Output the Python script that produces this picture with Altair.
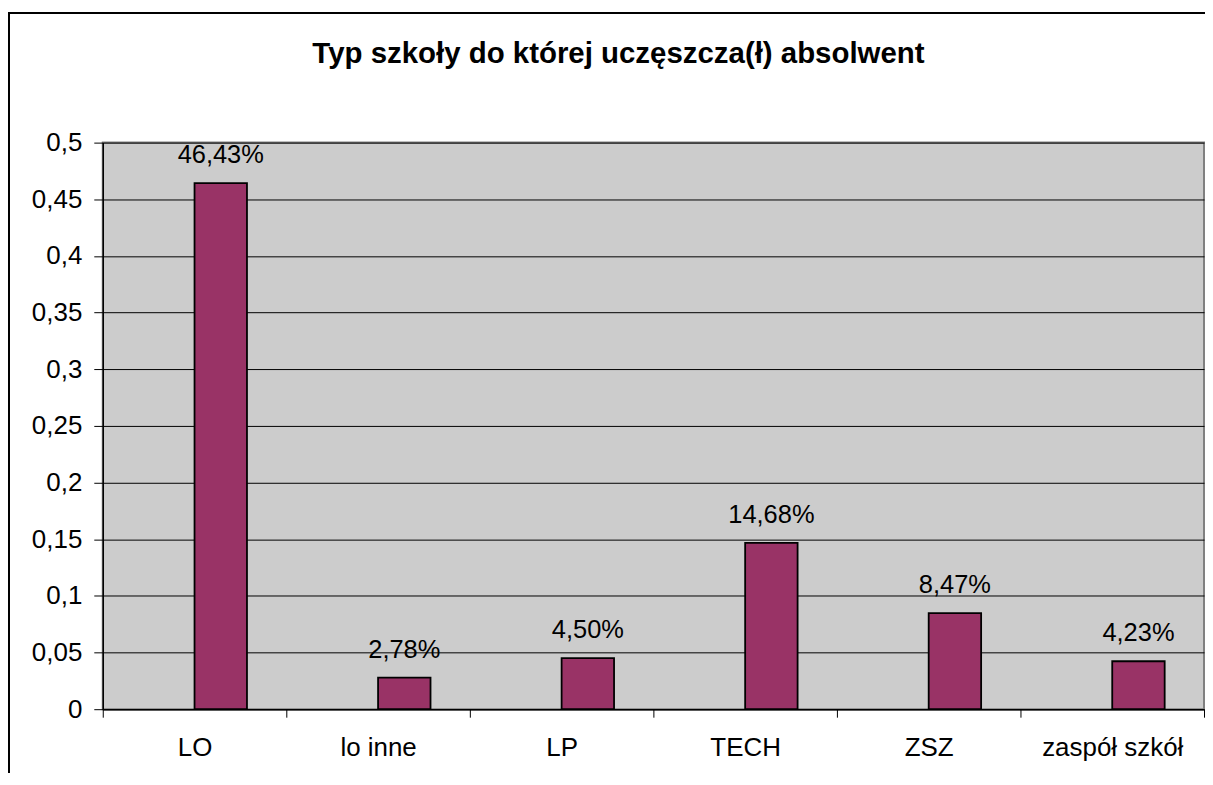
import altair as alt
import pandas as pd

categories = ["LO", "lo inne", "LP", "TECH", "ZSZ", "zaspół szkół"]
values = [0.4643, 0.0278, 0.0450, 0.1468, 0.0847, 0.0423]
y_ticks = [0, 0.05, 0.1, 0.15, 0.2, 0.25, 0.3, 0.35, 0.4, 0.45, 0.5]
title_text = "Typ szkoły do której uczęszcza(ł) absolwent"

FONT = "Liberation Sans"
W, H = 1104, 568

df = pd.DataFrame({
    "cat": categories,
    "val": values,
    "series": ["b"] * len(categories),
    "label": [f"{v * 100:.2f}%".replace(".", ",") for v in values],
})

x_enc = alt.X(
    "cat:N",
    sort=categories,
    scale=alt.Scale(paddingInner=0, paddingOuter=0),
    axis=alt.Axis(
        title=None, labelAngle=0, tickBand="extent", tickSize=8,
        tickColor="black", domainColor="black", domainWidth=1.5,
        labelFont=FONT, labelFontSize=26, labelColor="black",
        labelBaseline="alphabetic", labelPadding=38, grid=False,
    ),
)
xo_enc = alt.XOffset(
    "series:N",
    scale=alt.Scale(domain=["a", "b"], paddingInner=0, paddingOuter=0.75),
)
y_enc = alt.Y(
    "val:Q",
    scale=alt.Scale(domain=[0, 0.5], nice=False, zero=True),
    axis=alt.Axis(
        title=None, values=y_ticks,
        labelExpr="replace(format(datum.value, '.2~f'), '.', ',')",
        tickSize=9, tickColor="black", domainColor="black", domainWidth=1.5,
        grid=True, gridColor="black", gridWidth=1,
        labelFont=FONT, labelFontSize=26, labelColor="black", labelPadding=12,
    ),
)

bars = alt.Chart(df).mark_bar(
    color="#993366", stroke="black", strokeWidth=1.8
).encode(x=x_enc, xOffset=xo_enc, y=y_enc)

labels = alt.Chart(df).mark_text(
    font=FONT, fontSize=25.5, color="black", baseline="alphabetic", dy=-20
).encode(x=x_enc, xOffset=xo_enc, y=y_enc, text="label:N")

title_df = pd.DataFrame({"t": [title_text]})
title = alt.Chart(title_df).mark_text(
    font=FONT, fontSize=29.5, fontWeight="bold", color="black",
    baseline="alphabetic", align="center"
).encode(x=alt.value(517), y=alt.value(-80), text="t:N")

border_df = pd.DataFrame({"k": [0]})
border = alt.Chart(border_df).mark_rect(
    fillOpacity=0, stroke="black", strokeWidth=2
).encode(x=alt.value(-94), x2=alt.value(1300), y=alt.value(-130), y2=alt.value(900))

chart = alt.layer(border, bars, labels, title).properties(
    width=W, height=H,
    autosize=alt.AutoSizeParams(type="none"),
    padding={"left": 95, "top": 134, "right": 1, "bottom": 63},
).configure_view(
    fill="#CCCCCC", stroke="#808080", strokeWidth=2
)

chart.save("out.html", embed_options={"renderer": "svg", "actions": False})
